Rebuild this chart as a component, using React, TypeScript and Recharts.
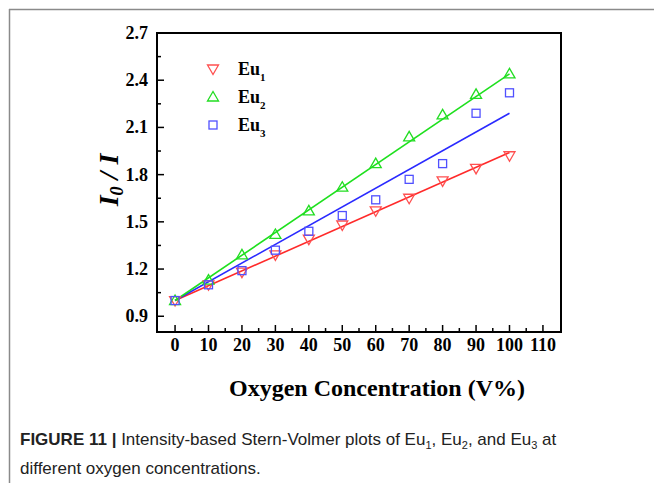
import React from "react";
import { ComposedChart, Scatter, Line, XAxis, YAxis, ReferenceArea } from "recharts";

const oxygen = [0, 10, 20, 30, 40, 50, 60, 70, 80, 90, 100];
const eu1 = [1.0, 1.1, 1.18, 1.29, 1.39, 1.48, 1.57, 1.65, 1.76, 1.84, 1.92];
const eu2 = [1.0, 1.13, 1.29, 1.42, 1.57, 1.72, 1.87, 2.04, 2.18, 2.31, 2.44];
const eu3 = [1.0, 1.1, 1.19, 1.32, 1.44, 1.54, 1.64, 1.77, 1.87, 2.19, 2.32];

const fitX = [0, 100];
const fit1 = [1.0, 1.94];
const fit2 = [1.0, 2.44];
const fit3 = [1.0, 2.19];

const xDomain = [-5.4, 115.4];
const yDomain = [0.8, 2.7];
const xTicks = [0, 5, 10, 15, 20, 25, 30, 35, 40, 45, 50, 55, 60, 65, 70, 75, 80, 85, 90, 95, 100, 105, 110];
const xMajor = [0, 10, 20, 30, 40, 50, 60, 70, 80, 90, 100, 110];
const yTicks = [0.9, 1.05, 1.2, 1.35, 1.5, 1.65, 1.8, 1.95, 2.1, 2.25, 2.4, 2.55, 2.7];
const yMajor = [0.9, 1.2, 1.5, 1.8, 2.1, 2.4, 2.7];

const seriesNames = ["1", "2", "3"];

const RED = "#ff2a2a";
const GREEN = "#1ee01e";
const BLUE = "#2a2aff";
const RED_M = "#ff5050";
const GREEN_M = "#22dd22";
const BLUE_M = "#5050ff";

const toPts = (xs: number[], ys: number[]) => xs.map((x, i) => ({ x, y: ys[i] }));

const s1 = toPts(oxygen, eu1);
const s2 = toPts(oxygen, eu2);
const s3 = toPts(oxygen, eu3);
const l1 = toPts(fitX, fit1);
const l2 = toPts(fitX, fit2);
const l3 = toPts(fitX, fit3);

const SERIF = "'Liberation Serif', 'Times New Roman', serif";

const DownTri = (p: any) => {
  const { cx, cy } = p;
  if (cx == null || cy == null) return null;
  return (
    <polygon
      points={`${cx - 5.5},${cy - 4} ${cx + 5.5},${cy - 4} ${cx},${cy + 5.5}`}
      fill="none"
      stroke={RED_M}
      strokeWidth={1.3}
    />
  );
};
const UpTri = (p: any) => {
  const { cx, cy } = p;
  if (cx == null || cy == null) return null;
  return (
    <polygon
      points={`${cx - 5.5},${cy + 4} ${cx + 5.5},${cy + 4} ${cx},${cy - 5.5}`}
      fill="none"
      stroke={GREEN_M}
      strokeWidth={1.3}
    />
  );
};
const Sq = (p: any) => {
  const { cx, cy } = p;
  if (cx == null || cy == null) return null;
  return <rect x={cx - 4} y={cy - 4} width={8} height={8} fill="none" stroke={BLUE_M} strokeWidth={1.3} />;
};

const XTick = (p: any) => {
  const { x, y, payload } = p;
  const v = payload.value;
  const major = xMajor.includes(v);
  return (
    <g>
      <line x1={x} x2={x} y1={y} y2={y - (major ? 7 : 4)} stroke="#000" strokeWidth={1.5} />
      {major && (
        <text x={x} y={y + 19} textAnchor="middle" fontFamily={SERIF} fontWeight="bold" fontSize={18} fill="#000">
          {v}
        </text>
      )}
    </g>
  );
};

const YTick = (p: any) => {
  const { x, y, payload } = p;
  const v = payload.value;
  const major = yMajor.some((m) => Math.abs(m - v) < 1e-6);
  return (
    <g>
      <line x1={x} x2={x + (major ? 7 : 4)} y1={y} y2={y} stroke="#000" strokeWidth={1.5} />
      {major && (
        <text x={x - 9} y={y + 6} textAnchor="end" fontFamily={SERIF} fontWeight="bold" fontSize={18} fill="#000">
          {v.toFixed(1)}
        </text>
      )}
    </g>
  );
};

export default function App() {
  const legendColors = [RED_M, GREEN_M, BLUE_M];
  return (
    <div style={{ position: "absolute", left: 0, top: 0, width: 654, height: 483, background: "#fff", overflow: "hidden" }}>
      <ComposedChart
        width={654}
        height={483}
        margin={{ top: 33, right: 93, left: 97, bottom: 121 }}
      >
        <XAxis
          dataKey="x"
          type="number"
          domain={xDomain}
          ticks={xTicks}
          interval={0}
          tick={<XTick />}
          tickLine={false}
          tickSize={0}
          tickMargin={0}
          height={30}
          axisLine={{ stroke: "#000", strokeWidth: 2 }}
          allowDataOverflow
        />
        <YAxis
          type="number"
          domain={yDomain}
          ticks={yTicks}
          interval={0}
          tick={<YTick />}
          tickLine={false}
          tickSize={0}
          tickMargin={0}
          width={60}
          axisLine={{ stroke: "#000", strokeWidth: 2 }}
          allowDataOverflow
        />
        <ReferenceArea
          x1={xDomain[0]}
          x2={xDomain[1]}
          y1={yDomain[0]}
          y2={yDomain[1]}
          fill="none"
          fillOpacity={0}
          stroke="#000"
          strokeWidth={2}
          strokeOpacity={1}
          ifOverflow="visible"
        />
        <Line data={l1} dataKey="y" type="linear" stroke={RED} strokeWidth={1.6} dot={false} isAnimationActive={false} />
        <Line data={l3} dataKey="y" type="linear" stroke={BLUE} strokeWidth={1.6} dot={false} isAnimationActive={false} />
        <Line data={l2} dataKey="y" type="linear" stroke={GREEN} strokeWidth={1.6} dot={false} isAnimationActive={false} />
        <Scatter data={s1} dataKey="y" shape={DownTri} isAnimationActive={false} />
        <Scatter data={s2} dataKey="y" shape={UpTri} isAnimationActive={false} />
        <Scatter data={s3} dataKey="y" shape={Sq} isAnimationActive={false} />
      </ComposedChart>
      <svg width={654} height={483} style={{ position: "absolute", left: 0, top: 0, pointerEvents: "none" }}>
        <line x1={9} y1={9.5} x2={654} y2={9.5} stroke="#8a8a8a" strokeWidth={1.5} />
        <line x1={9.5} y1={9} x2={9.5} y2={483} stroke="#8a8a8a" strokeWidth={1.5} />
        {seriesNames.map((n, i) => {
          const cy = 69 + i * 28;
          const cx = 213;
          const c = legendColors[i];
          let mark;
          if (i === 0)
            mark = <polygon points={`${cx - 5.5},${cy - 4} ${cx + 5.5},${cy - 4} ${cx},${cy + 5.5}`} fill="none" stroke={c} strokeWidth={1.3} />;
          else if (i === 1)
            mark = <polygon points={`${cx - 5.5},${cy + 4} ${cx + 5.5},${cy + 4} ${cx},${cy - 5.5}`} fill="none" stroke={c} strokeWidth={1.3} />;
          else mark = <rect x={cx - 4} y={cy - 4} width={8} height={8} fill="none" stroke={c} strokeWidth={1.3} />;
          return (
            <g key={n}>
              {mark}
              <text x={238} y={cy + 6} fontFamily={SERIF} fontWeight="bold" fontSize={18} fill="#000">
                Eu
                <tspan fontSize={11} dy={6}>{n}</tspan>
              </text>
            </g>
          );
        })}
        <text x={377} y={396} textAnchor="middle" fontFamily={SERIF} fontWeight="bold" fontSize={24} fill="#000">
          Oxygen Concentration (V%)
        </text>
        <text
          transform="translate(118,180) rotate(-90)"
          textAnchor="middle"
          fontFamily={SERIF}
          fontWeight="bold"
          fontStyle="italic"
          fontSize={28}
          fill="#000"
        >
          I<tspan fontSize={18} dy={5}>0</tspan>
          <tspan dy={-5}> / I</tspan>
        </text>
      </svg>
      <div
        style={{
          position: "absolute",
          left: 20,
          top: 428,
          width: 630,
          fontFamily: "'Liberation Sans', Arial, sans-serif",
          fontSize: 17,
          lineHeight: "23px",
          color: "#222",
        }}
      >
        <span style={{ fontWeight: "bold" }}>FIGURE 11 | </span>
        Intensity-based Stern-Volmer plots of Eu<sub style={{ fontSize: 11 }}>1</sub>, Eu<sub style={{ fontSize: 11 }}>2</sub>, and Eu
        <sub style={{ fontSize: 11 }}>3</sub> at
        <br />
        different oxygen concentrations.
      </div>
    </div>
  );
}
